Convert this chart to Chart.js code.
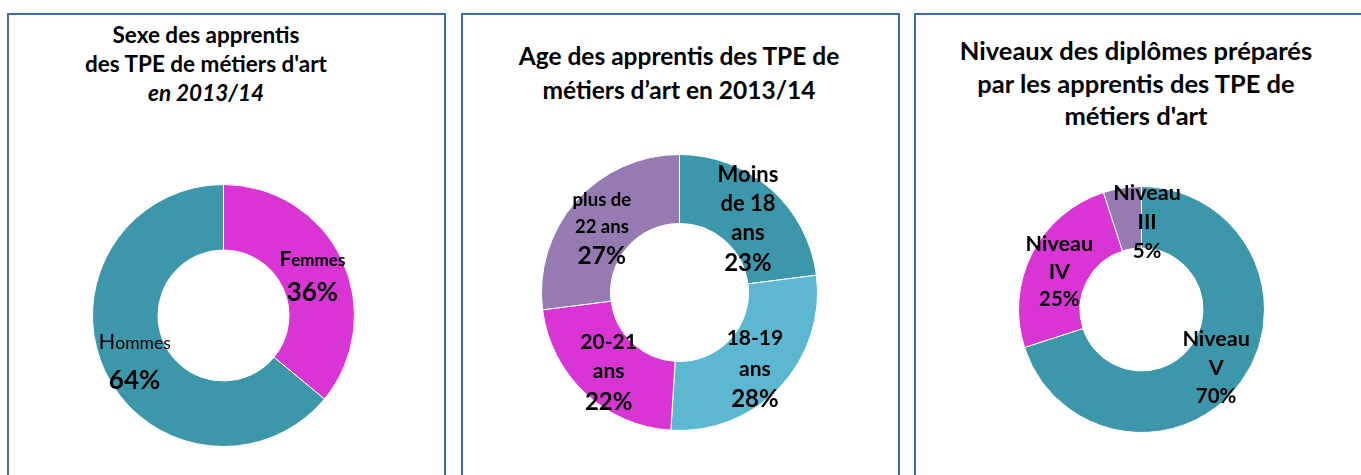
<!DOCTYPE html>
<html>
<head>
<meta charset="utf-8">
<script src="https://cdn.jsdelivr.net/npm/chart.js@4.4.1/dist/chart.umd.min.js"></script>
<style>
  html, body { margin: 0; padding: 0; background: #ffffff; width: 1361px; height: 475px; overflow: hidden; font-family: Lato, "Open Sans", sans-serif; }
  .panel { position: absolute; border: 2px solid #3d6dac; box-sizing: border-box; background: #fff; }
  .title { position: absolute; text-align: center; font-weight: bold; color: #000; white-space: nowrap; transform: translateX(-50%); }
  .chartbox { position: absolute; }
  canvas { display: block; }
</style>
</head>
<body>
<div class="panel" style="left:7px; top:13px; width:439px; height:480px;"></div>
<div class="panel" style="left:461px; top:13px; width:439px; height:480px;"></div>
<div class="panel" style="left:914px; top:13px; width:460px; height:480px;"></div>

<div class="title" style="left:206px; top:20px; font-size:22.5px; line-height:29px;">Sexe des apprentis<br>des TPE de métiers d'art<br><i>en 2013/14</i></div>
<div class="title" style="left:679px; top:39px; font-size:24.5px; line-height:34px;">Age des apprentis des TPE de<br>métiers d’art en 2013/14</div>
<div class="title" style="left:1136px; top:34px; font-size:25.5px; line-height:32.5px;">Niveaux des diplômes préparés<br>par les apprentis des TPE de<br>métiers d'art</div>

<div class="chartbox" style="left:62px; top:154px;"><canvas id="c1" width="323" height="323"></canvas></div>
<div class="chartbox" style="left:511px; top:124px;"><canvas id="c2" width="337" height="337"></canvas></div>
<div class="chartbox" style="left:988px; top:156px;"><canvas id="c3" width="307" height="307"></canvas></div>

<script>
// ---- Data ----
const sexCategories = ['Femmes', 'Hommes'];
const sexValues = [36, 64];
const sexColors = ['#d935d4', '#3d97ab'];

const ageCategories = ['Moins de 18 ans', '18-19 ans', '20-21 ans', 'plus de 22 ans'];
const ageLabelLines = [['Moins', 'de 18', 'ans'], ['18-19', 'ans'], ['20-21', 'ans'], ['plus de', '22 ans']];
const ageValues = [23, 28, 22, 27];
const ageColors = ['#3d97ab', '#5bb8d0', '#d935d4', '#957bb1'];

const levelCategories = ['Niveau V', 'Niveau IV', 'Niveau III'];
const levelLabelLines = [['Niveau', 'V'], ['Niveau', 'IV'], ['Niveau', 'III']];
const levelValues = [70, 25, 5];
const levelColors = ['#3d97ab', '#d935d4', '#957bb1'];

// ---- Label plugin ----
const FONT = 'Lato, "Open Sans", sans-serif';
const donutLabels = {
  id: 'donutLabels',
  afterDatasetsDraw(chart, args, opts) {
    const ctx = chart.ctx;
    const meta = chart.getDatasetMeta(0);
    const values = chart.data.datasets[0].data;
    meta.data.forEach((arc, i) => {
      const p = arc.tooltipPosition();
      const off = (opts.offsets && opts.offsets[i]) || [0, 0];
      const cfg = opts.items[i];
      const lines = cfg.lines.map(t => ({ text: t, font: cfg.nameFont, h: cfg.nameLH, capFirst: cfg.capFirst }));
      lines.push({ text: values[i] + '%', font: cfg.pctFont, h: cfg.pctLH });
      const total = lines.reduce((s, l) => s + l.h, 0);
      let y = p.y + off[1] + (opts.dy || 0) - total / 2;
      const x = p.x + off[0];
      ctx.save();
      ctx.fillStyle = '#000';
      ctx.textBaseline = 'middle';
      lines.forEach(l => {
        const cy = y + l.h / 2;
        if (l.capFirst) {
          const first = l.text.charAt(0), rest = l.text.slice(1);
          ctx.font = l.capFirst[0];
          const w1 = ctx.measureText(first).width;
          ctx.font = l.capFirst[1];
          const w2 = ctx.measureText(rest).width;
          const x0 = x - (w1 + w2) / 2;
          ctx.textAlign = 'left';
          ctx.textBaseline = 'alphabetic';
          ctx.font = l.capFirst[0];
          ctx.fillText(first, x0, cy + 7);
          ctx.font = l.capFirst[1];
          ctx.fillText(rest, x0 + w1, cy + 7);
          ctx.textBaseline = 'middle';
        } else {
          ctx.font = l.font;
          ctx.textAlign = 'center';
          ctx.fillText(l.text, x, cy);
        }
        y += l.h;
      });
      ctx.restore();
    });
  }
};

function makeDonut(id, labels, values, colors, labelOpts) {
  return new Chart(document.getElementById(id), {
    type: 'doughnut',
    data: { labels: labels, datasets: [{ data: values, backgroundColor: colors, borderColor: '#ffffff', borderWidth: 1, hoverOffset: 0 }] },
    options: {
      responsive: false,
      animation: false,
      cutout: '50%',
      layout: { padding: 30 },
      plugins: { legend: { display: false }, tooltip: { enabled: false }, title: { display: false }, donutLabels: labelOpts }
    },
    plugins: [donutLabels]
  });
}

makeDonut('c1', sexCategories, sexValues, sexColors, {
  dy: 1,
  offsets: [[0, 2], [0, 4]],
  items: [
    { lines: ['Femmes'], nameFont: 'bold 17px ' + FONT, nameLH: 31, capFirst: ['bold 21px ' + FONT, 'bold 17px ' + FONT], pctFont: 'bold 26px ' + FONT, pctLH: 35 },
    { lines: ['Hommes'], nameFont: '17px ' + FONT, nameLH: 36, capFirst: ['22px ' + FONT, '17.5px ' + FONT], pctFont: 'bold 26px ' + FONT, pctLH: 40 }
  ]
});

makeDonut('c2', ageCategories, ageValues, ageColors, {
  dy: 5,
  items: [
    { lines: ageLabelLines[0], nameFont: 'bold 22px ' + FONT, nameLH: 29, pctFont: 'bold 24px ' + FONT, pctLH: 32 },
    { lines: ageLabelLines[1], nameFont: 'bold 21px ' + FONT, nameLH: 31, pctFont: 'bold 24px ' + FONT, pctLH: 30 },
    { lines: ageLabelLines[2], nameFont: 'bold 21px ' + FONT, nameLH: 29, pctFont: 'bold 24px ' + FONT, pctLH: 32 },
    { lines: ageLabelLines[3], nameFont: 'bold 18.5px ' + FONT, nameLH: 27, pctFont: 'bold 24.5px ' + FONT, pctLH: 32 }
  ]
});

makeDonut('c3', levelCategories, levelValues, levelColors, {
  dy: 4,
  offsets: [[0, 0], [0, 0], [20, 0]],
  items: [
    { lines: levelLabelLines[0], nameFont: 'bold 21.5px ' + FONT, nameLH: 29, pctFont: 'bold 20.5px ' + FONT, pctLH: 29 },
    { lines: levelLabelLines[1], nameFont: 'bold 21.5px ' + FONT, nameLH: 28, pctFont: 'bold 20.5px ' + FONT, pctLH: 28 },
    { lines: levelLabelLines[2], nameFont: 'bold 21.5px ' + FONT, nameLH: 29, pctFont: 'bold 20.5px ' + FONT, pctLH: 29 }
  ]
});
</script>
</body>
</html>
